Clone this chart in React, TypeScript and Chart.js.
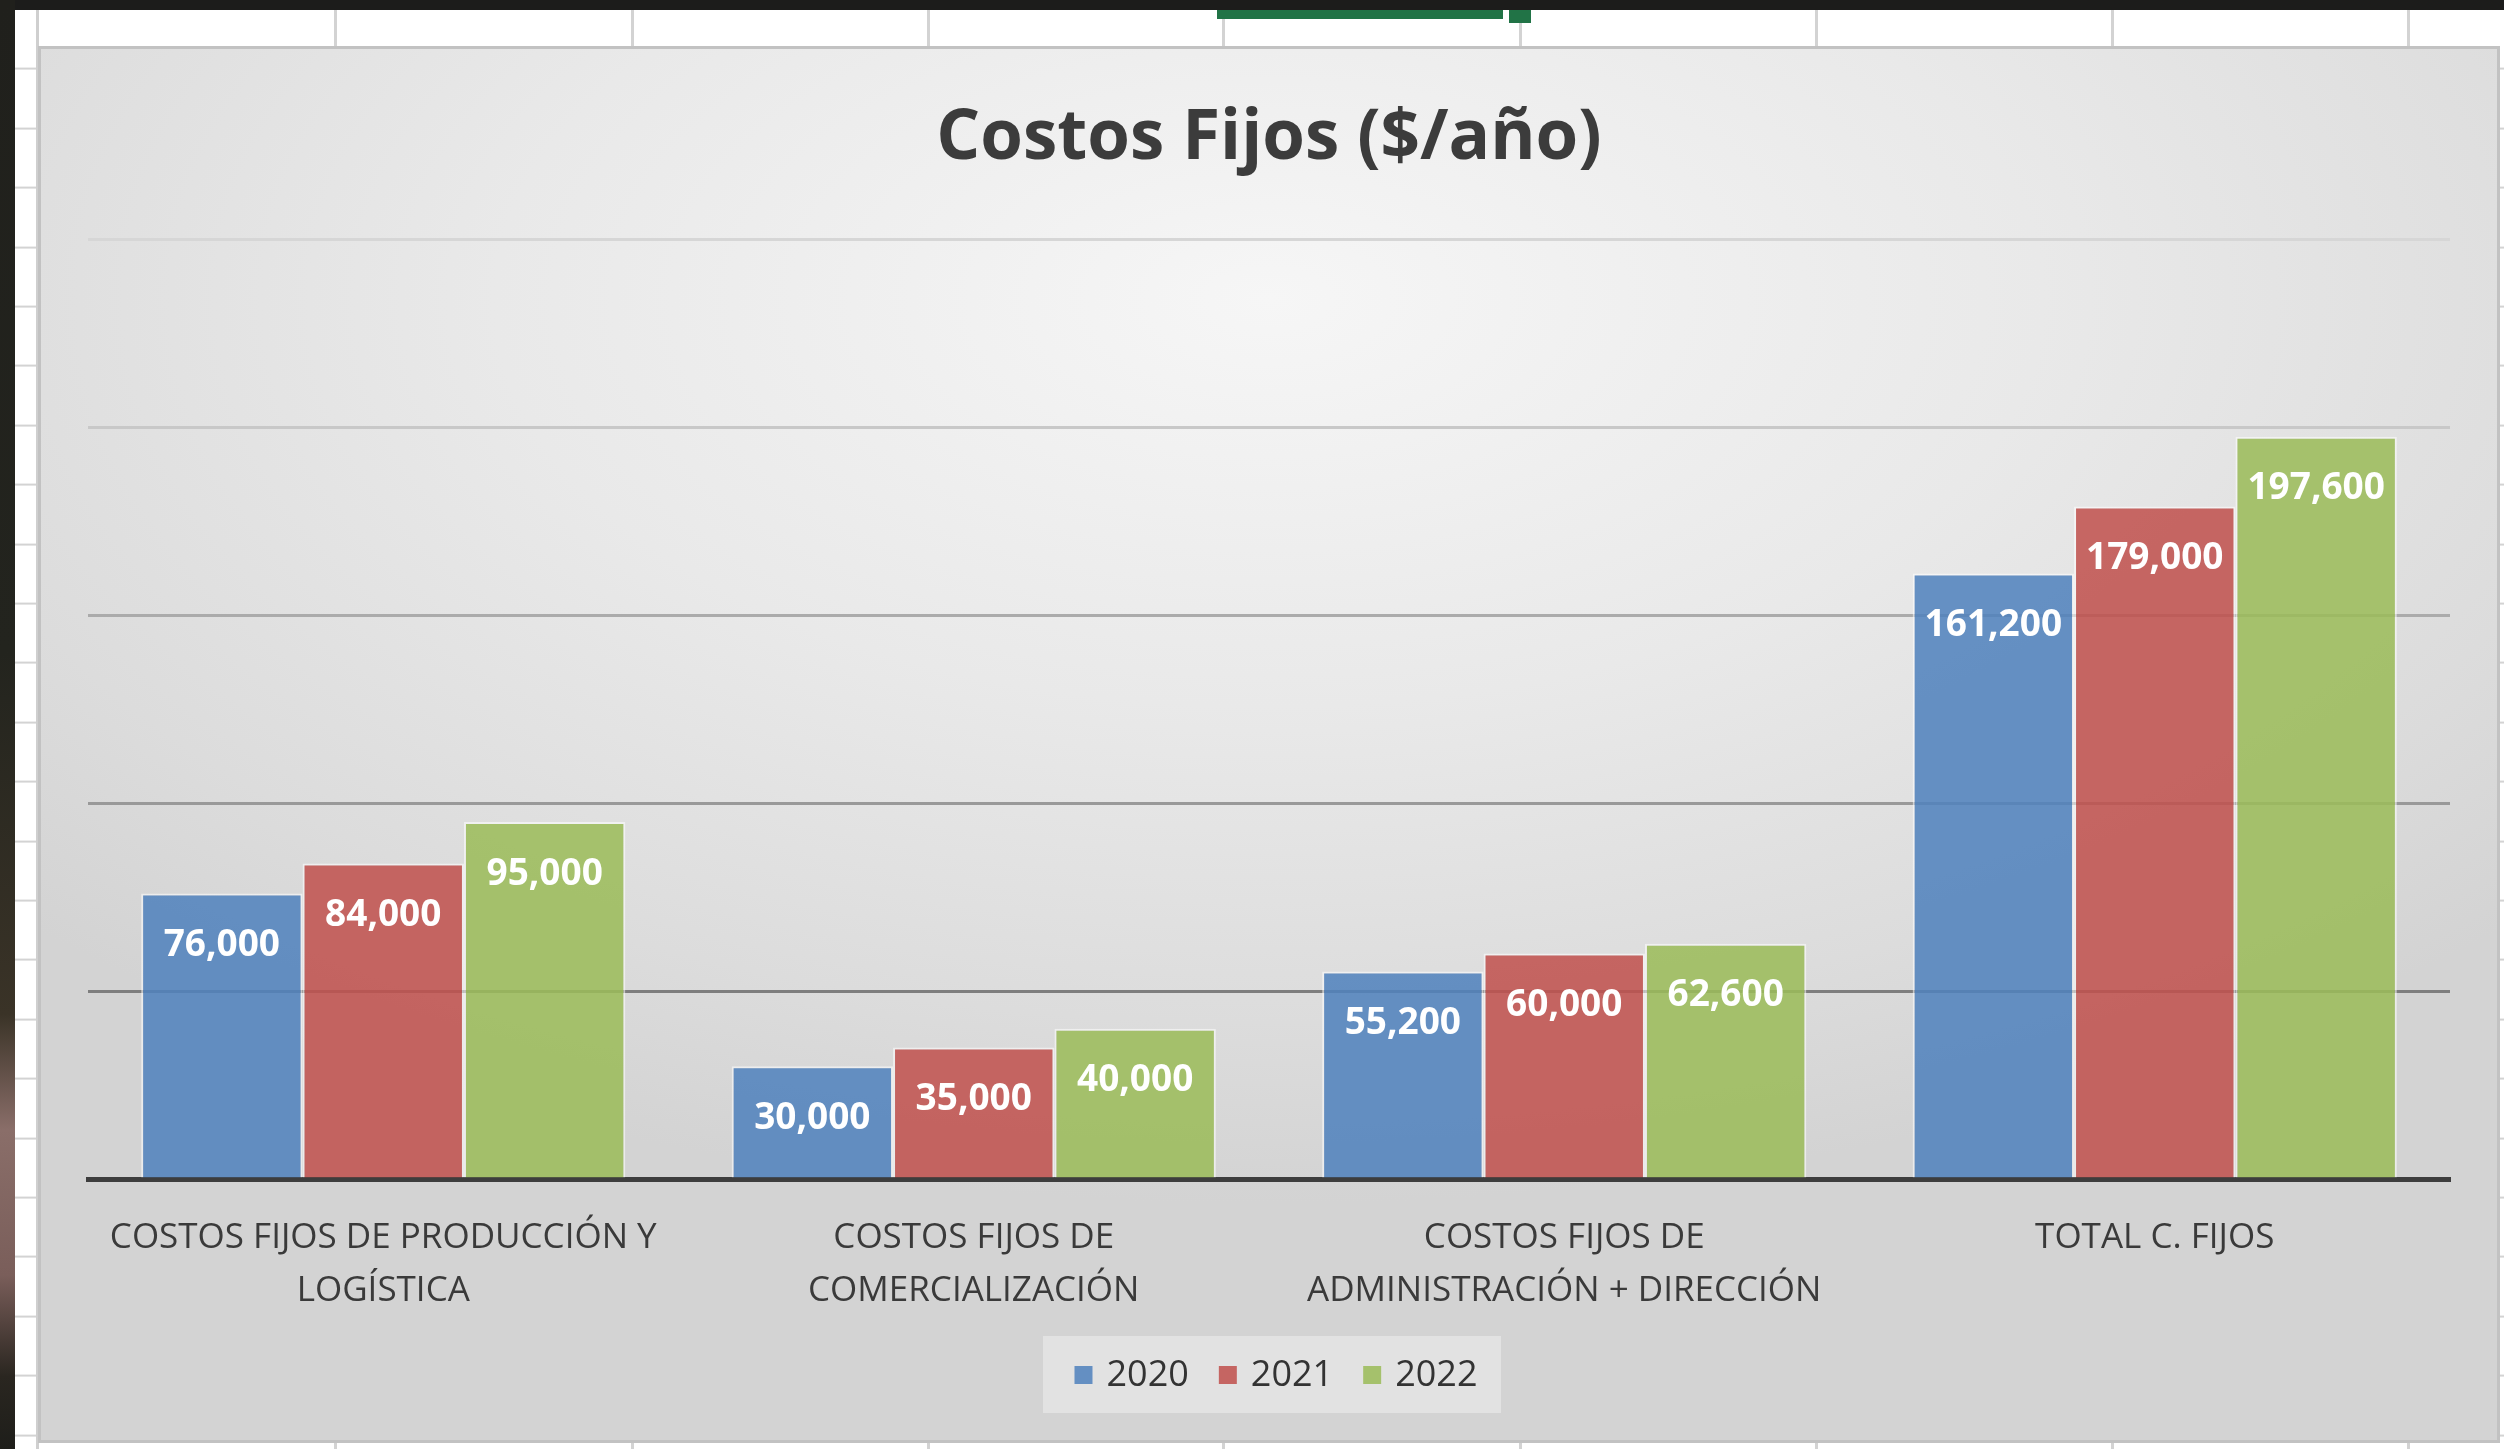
import React, { useEffect, useRef } from "react";
import { Chart, registerables } from "chart.js";

Chart.register(...registerables);

// ---- data ----
const categories: string[][] = [
  ["COSTOS FIJOS DE PRODUCCIÓN Y", "LOGÍSTICA"],
  ["COSTOS FIJOS DE", "COMERCIALIZACIÓN"],
  ["COSTOS FIJOS DE", "ADMINISTRACIÓN + DIRECCIÓN"],
  ["TOTAL C. FIJOS"],
];
const seriesLabels = ["2020", "2021", "2022"];
const values2020 = [76000, 30000, 55200, 161200];
const values2021 = [84000, 35000, 60000, 179000];
const values2022 = [95000, 40000, 62600, 197600];
const yTicks = [0, 50000, 100000, 150000, 200000, 250000];
const chartTitle = "Costos Fijos ($/año)";

// ---- styles ----
const FONT = "'Open Sans', 'Noto Sans', sans-serif";
const seriesColors = [
  "rgba(79,129,189,0.86)",
  "rgba(192,80,77,0.86)",
  "rgba(155,187,89,0.86)",
];
const gridColors: Record<number, string> = {
  0: "rgba(0,0,0,0)",
  50000: "#7e7e7e",
  100000: "#999999",
  150000: "#ababab",
  200000: "#c8c8c8",
  250000: "#d6d6d6",
};

const valueLabelsPlugin = {
  id: "valueLabels",
  afterDatasetsDraw(chart: any) {
    const ctx = chart.ctx as CanvasRenderingContext2D;
    ctx.save();
    ctx.font = `bold 37px ${FONT}`;
    ctx.fillStyle = "#ffffff";
    ctx.textAlign = "center";
    ctx.textBaseline = "middle";
    chart.data.datasets.forEach((ds: any, i: number) => {
      const meta = chart.getDatasetMeta(i);
      meta.data.forEach((bar: any, j: number) => {
        const v = ds.data[j] as number;
        ctx.fillText(v.toLocaleString("en-US"), bar.x, bar.y + 52);
      });
    });
    ctx.restore();
  },
};

const legendPlugin = {
  id: "customLegend",
  afterDraw(chart: any) {
    const ctx = chart.ctx as CanvasRenderingContext2D;
    const area = chart.chartArea;
    const cx = (area.left + area.right) / 2 + 3;
    const cy = 1327;
    ctx.save();
    // legend background
    ctx.fillStyle = "rgba(238,238,238,0.55)";
    ctx.fillRect(cx - 229, cy - 40, 458, 77);
    ctx.font = `36px ${FONT}`;
    ctx.textBaseline = "middle";
    ctx.textAlign = "left";
    const box = 18;
    const gap = 14;
    const spacing = 30;
    const items = chart.data.datasets.map((ds: any) => ({
      label: ds.label as string,
      color: ds.backgroundColor as string,
      w: box + gap + ctx.measureText(ds.label).width,
    }));
    const total =
      items.reduce((s: number, it: any) => s + it.w, 0) +
      spacing * (items.length - 1);
    let x = cx - total / 2 + 4;
    items.forEach((it: any) => {
      ctx.fillStyle = it.color;
      ctx.fillRect(x, cy - box / 2 - 1, box, box);
      ctx.fillStyle = "#333333";
      ctx.fillText(it.label, x + box + gap, cy);
      x += it.w + spacing;
    });
    ctx.restore();
  },
};

export default function App() {
  const canvasRef = useRef<HTMLCanvasElement>(null);

  useEffect(() => {
    const canvas = canvasRef.current!;
    const chart = new Chart(canvas, {
      type: "bar",
      data: {
        labels: categories,
        datasets: [values2020, values2021, values2022].map((vals, i) => ({
          label: seriesLabels[i],
          data: vals,
          backgroundColor: seriesColors[i],
          borderColor: "rgba(255,255,255,0.55)",
          borderWidth: 2,
          categoryPercentage: 0.82,
          barPercentage: 1.0,
        })),
      },
      options: {
        responsive: false,
        animation: false,
        devicePixelRatio: 1,
        layout: { padding: { left: 47, right: 47, top: 0, bottom: 0 } },
        plugins: {
          legend: { display: false },
          tooltip: { enabled: false },
          title: {
            display: true,
            text: chartTitle,
            color: "#3c3c3c",
            font: { family: FONT, size: 69, weight: "bold", lineHeight: 1.2 },
            padding: { top: 49, bottom: 59 },
          },
        },
        scales: {
          x: {
            grid: { display: false, drawTicks: false },
            border: { display: true, color: "#3d3d3d", width: 5 },
            ticks: {
              color: "#3a3a3a",
              font: { family: FONT, size: 35, lineHeight: 1.5 },
              padding: 33,
              maxRotation: 0,
              minRotation: 0,
              autoSkip: false,
            },
            afterFit: (scale: any) => {
              scale.height = 261;
            },
          },
          y: {
            min: 0,
            max: 250000,
            afterBuildTicks: (scale: any) => {
              scale.ticks = yTicks.map((v) => ({ value: v }));
            },
            ticks: { display: false },
            border: { display: false },
            grid: {
              drawTicks: false,
              lineWidth: 3,
              color: (c: any) => gridColors[c.tick?.value] ?? "#bbbbbb",
            },
          },
        },
      },
      plugins: [valueLabelsPlugin, legendPlugin],
    });
    return () => chart.destroy();
  }, []);

  const colLines = [335, 632, 928, 1223, 1520, 1816, 2112, 2408];

  return (
    <div
      style={{
        position: "absolute",
        left: 0,
        top: 0,
        width: 2504,
        height: 1449,
        background: "#ffffff",
        overflow: "hidden",
      }}
    >
      {/* spreadsheet column lines */}
      {colLines.map((x) => (
        <div
          key={x}
          style={{
            position: "absolute",
            left: x - 1,
            top: 10,
            width: 3,
            height: 1439,
            background: "#d3d3d3",
          }}
        />
      ))}
      {/* left / right strip row lines */}
      <div
        style={{
          position: "absolute",
          left: 15,
          top: 10,
          width: 25,
          height: 1439,
          backgroundImage:
            "repeating-linear-gradient(to bottom, transparent 0px, transparent 57.4px, #d3d3d3 57.4px, #d3d3d3 59.4px)",
          backgroundPosition: "0 0.6px",
        }}
      />
      <div
        style={{
          position: "absolute",
          left: 2500,
          top: 10,
          width: 4,
          height: 1439,
          backgroundImage:
            "repeating-linear-gradient(to bottom, transparent 0px, transparent 57.4px, #d3d3d3 57.4px, #d3d3d3 59.4px)",
          backgroundPosition: "0 0.6px",
        }}
      />
      <div
        style={{
          position: "absolute",
          left: 36,
          top: 10,
          width: 3,
          height: 1439,
          background: "#cfcfcf",
        }}
      />
      {/* dark frame */}
      <div
        style={{
          position: "absolute",
          left: 0,
          top: 0,
          width: 2504,
          height: 10,
          background: "#1c1c1b",
        }}
      />
      <div
        style={{
          position: "absolute",
          left: 0,
          top: 0,
          width: 15,
          height: 1449,
          background:
            "linear-gradient(to bottom, #20201c 0%, #23241e 45%, #3a3327 70%, #8a6e69 78%, #7a5e5a 88%, #2a2620 95%, #1e1e1a 100%)",
        }}
      />
      {/* green selection marks */}
      <div
        style={{
          position: "absolute",
          left: 1217,
          top: 10,
          width: 286,
          height: 9,
          background: "#217346",
        }}
      />
      <div
        style={{
          position: "absolute",
          left: 1509,
          top: 10,
          width: 22,
          height: 13,
          background: "#217346",
        }}
      />
      {/* chart box */}
      <div
        style={{
          position: "absolute",
          left: 38,
          top: 46,
          width: 2462,
          height: 1397,
          boxSizing: "border-box",
          border: "3px solid #c2c2c2",
          background:
            "radial-gradient(ellipse 70% 65% at 50% 18%, #f6f6f6 0%, #e9e9e9 45%, #dcdcdc 80%, #d3d3d3 100%)",
        }}
      >
        <canvas
          ref={canvasRef}
          width={2456}
          height={1391}
          style={{ display: "block", width: 2456, height: 1391 }}
        />
      </div>
    </div>
  );
}
